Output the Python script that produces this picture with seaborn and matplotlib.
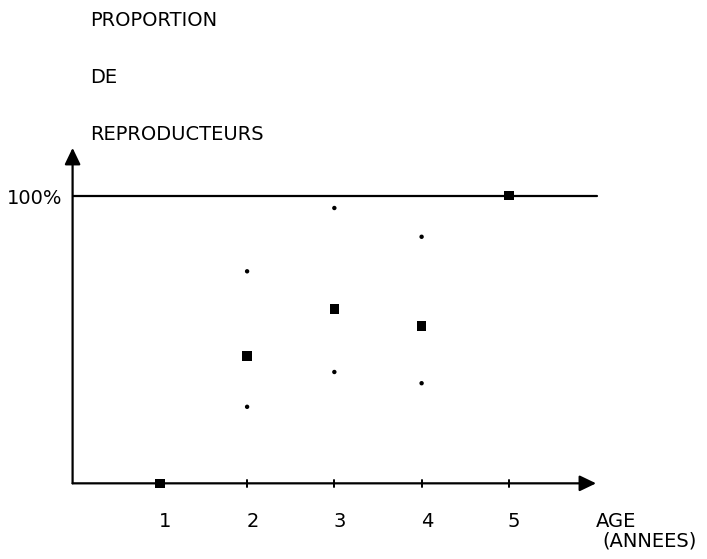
import matplotlib
matplotlib.use('Agg')
import matplotlib.pyplot as plt
import pandas as pd
import seaborn as sns

# values (proportion, 1.0 = 100%)
ages = [1, 2, 3, 4, 5]
prop_mean = [0.0, 0.443, 0.606, 0.547, 1.0]
ci_ages = [2, 3, 4]
ci_low = [0.266, 0.387, 0.348]
ci_high = [0.737, 0.957, 0.857]
tick_labels = ['1', '2', '3', '4', '5']

df_mean = pd.DataFrame({'age': ages, 'prop': prop_mean})
df_ci = pd.DataFrame({'age': ci_ages * 2, 'prop': ci_low + ci_high})

sns.set_style('white')
plt.rcParams['font.family'] = ['DejaVu Sans']
plt.rcParams['text.color'] = 'black'

fig = plt.figure(figsize=(7.07, 5.59), dpi=100)
ax = fig.add_axes([0, 0, 1, 1])
ax.set_xlim(-0.832, 7.271)
ax.set_ylim(-0.263, 1.680)
ax.axis('off')

# axes with arrows
arrow = dict(arrowstyle='-|>,head_length=0.5,head_width=0.24', lw=1.6,
             color='black', mutation_scale=20, shrinkA=0, shrinkB=0)
ax.annotate('', xy=(6.0, 0), xytext=(0, 0), arrowprops=arrow)
ax.annotate('', xy=(0, 1.166), xytext=(0, 0), arrowprops=arrow)

# 100% line
ax.plot([0, 6.01], [1, 1], color='black', lw=1.6)

# small ticks on x axis
for a in ages:
    ax.plot([a, a], [-0.012, 0.012], color='black', lw=1.4)

sns.scatterplot(data=df_ci, x='age', y='prop', ax=ax, marker='o',
                s=10, color='black', edgecolor='none', zorder=4)
sns.scatterplot(data=df_mean, x='age', y='prop', ax=ax, marker='s',
                s=48, color='black', edgecolor='none', zorder=5)

fs = 14
for a, lab in zip(ages, tick_labels):
    ax.text(a - 0.01, -0.153, lab, ha='left', va='baseline', fontsize=fs)

ax.text(-0.121, 0.971, '100%', ha='right', va='baseline', fontsize=fs)
ax.text(0.2, 1.590, 'PROPORTION', ha='left', va='baseline', fontsize=fs)
ax.text(0.2, 1.392, 'DE', ha='left', va='baseline', fontsize=fs)
ax.text(0.2, 1.194, 'REPRODUCTEURS', ha='left', va='baseline', fontsize=fs)
ax.text(6.0, -0.153, 'AGE', ha='left', va='baseline', fontsize=fs)
ax.text(6.07, -0.221, '(ANNEES)', ha='left', va='baseline', fontsize=fs)

fig.savefig('out.png', dpi=100)
